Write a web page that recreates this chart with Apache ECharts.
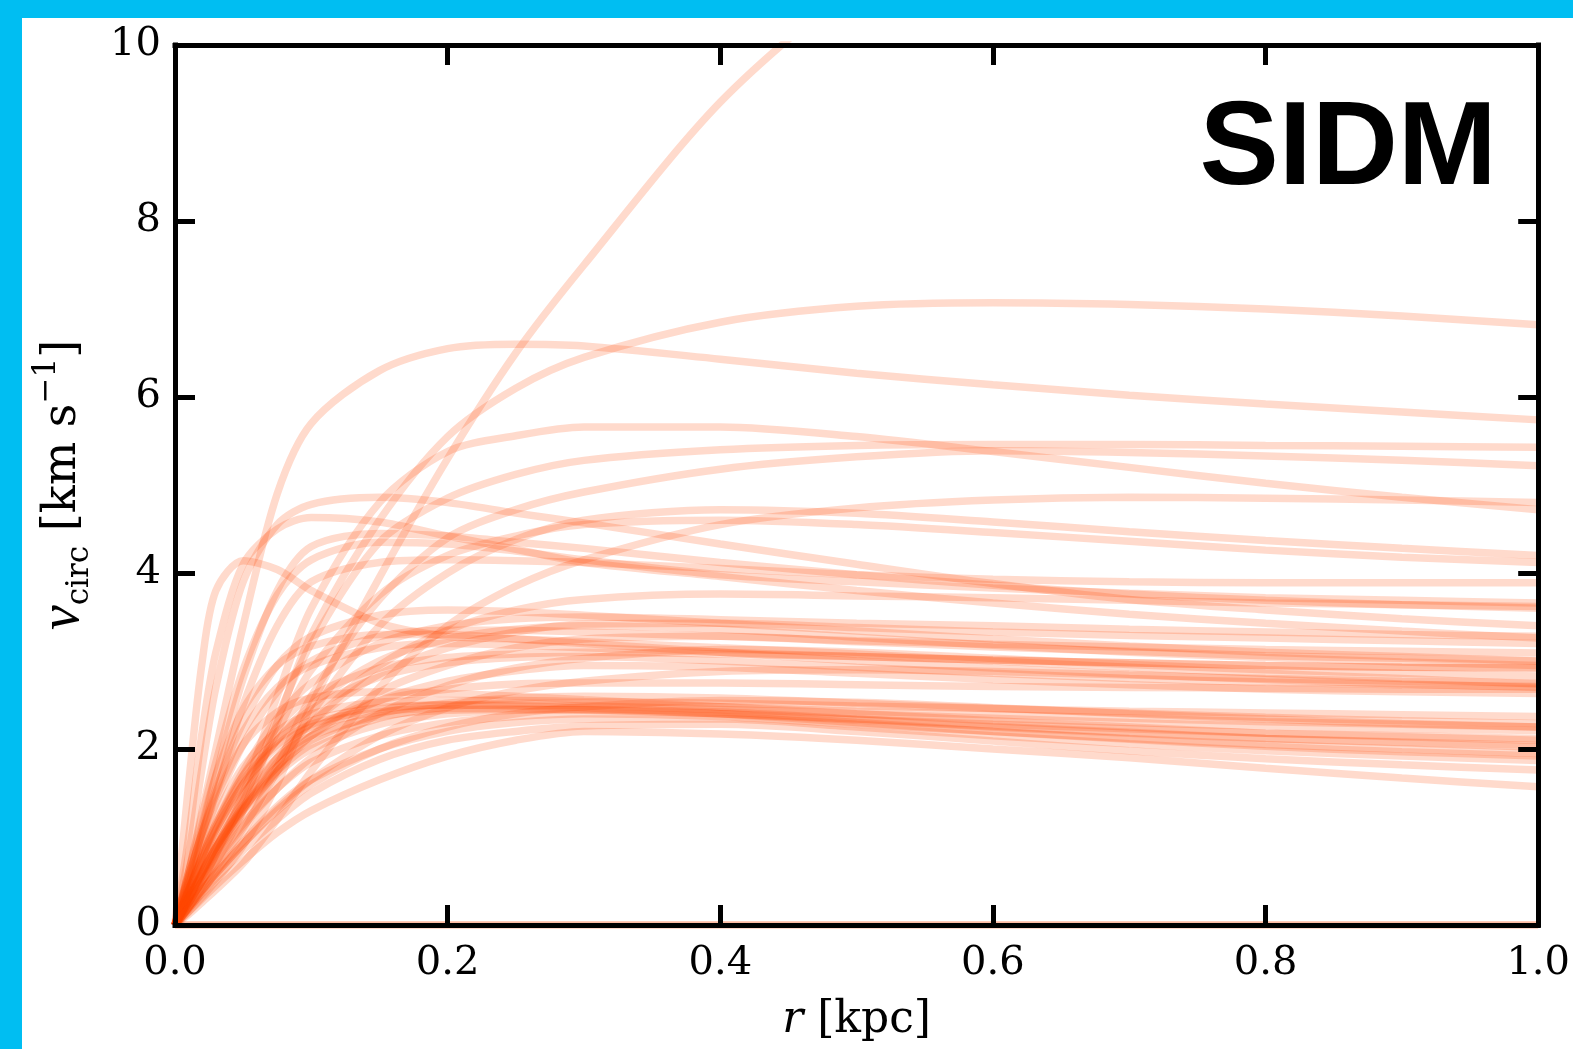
<!DOCTYPE html>
<html><head><meta charset="utf-8">
<script src="https://cdn.jsdelivr.net/npm/echarts@6/dist/echarts.min.js"></script>
<style>html,body{margin:0;padding:0;background:#fff}#c{width:1573px;height:1049px}</style>
</head><body><div id="c"></div><script>
// radius grid [kpc]
const radius = [0, 0.01, 0.02, 0.03, 0.05, 0.075, 0.1, 0.15, 0.2, 0.25, 0.3, 0.4, 0.5, 0.6, 0.7, 0.8, 0.9, 1.0];
const xTicks = [0, 0.2, 0.4, 0.6, 0.8, 1.0];
const yTicks = [0, 2, 4, 6, 8, 10];
// circular velocity curves [km/s]
const haloA = [0, 0.15, 0.32, 0.5, 0.9, 1.6, 2.5, 3.95, 5.3, 6.5, 7.5, 9.35, 10.7, 11.8, 12.8, 13.6, 14.3, 14.9];
const haloB = [0, 0.2, 0.45, 0.7, 1.3, 2.3, 3.3, 4.6, 5.55, 6.1, 6.45, 6.85, 7.03, 7.07, 7.05, 7.0, 6.92, 6.82];
const haloC = [0, 0.6, 1.3, 2.0, 3.4, 4.9, 5.7, 6.3, 6.55, 6.6, 6.58, 6.43, 6.27, 6.14, 6.02, 5.92, 5.83, 5.74];
const haloD = [0, 0.25, 0.5, 0.8, 1.5, 2.6, 3.6, 4.8, 5.38, 5.56, 5.66, 5.66, 5.55, 5.38, 5.2, 5.02, 4.86, 4.72];
const haloE = [0, 0.25, 0.5, 0.8, 1.4, 2.35, 3.2, 4.35, 4.85, 5.12, 5.28, 5.4, 5.45, 5.46, 5.46, 5.45, 5.44, 5.43];
const haloF = [0, 0.18, 0.38, 0.6, 1.05, 1.8, 2.6, 3.7, 4.4, 4.72, 4.92, 5.18, 5.32, 5.39, 5.37, 5.33, 5.28, 5.22];
const haloG = [0, 0.12, 0.26, 0.4, 0.7, 1.2, 1.75, 2.7, 3.4, 3.85, 4.15, 4.55, 4.74, 4.83, 4.86, 4.85, 4.83, 4.80];
const haloH = [0, 0.8, 1.8, 2.7, 3.9, 4.55, 4.78, 4.86, 4.8, 4.68, 4.57, 4.33, 4.1, 3.88, 3.7, 3.58, 3.48, 3.40];
const haloI = [0, 1.0, 2.2, 3.1, 4.1, 4.5, 4.63, 4.58, 4.42, 4.27, 4.12, 3.96, 3.8, 3.66, 3.53, 3.43, 3.34, 3.26];
const haloJ = [0, 1.6, 3.0, 3.8, 4.14, 4.04, 3.8, 3.43, 3.28, 3.25, 3.22, 3.15, 3.08, 3.0, 2.93, 2.86, 2.8, 2.74];
const haloK1 = [0, 0.2, 0.42, 0.65, 1.1, 1.75, 2.4, 3.4, 4.0, 4.38, 4.6, 4.72, 4.68, 4.58, 4.47, 4.37, 4.28, 4.20];
const haloK2 = [0, 0.28, 0.58, 0.88, 1.45, 2.2, 2.9, 3.75, 4.2, 4.42, 4.55, 4.6, 4.55, 4.46, 4.36, 4.26, 4.18, 4.12];
const haloL1 = [0, 0.5, 1.1, 1.7, 2.8, 3.8, 4.3, 4.45, 4.42, 4.35, 4.28, 4.12, 3.98, 3.86, 3.76, 3.69, 3.64, 3.60];
const haloL2 = [0, 0.45, 1.0, 1.5, 2.5, 3.4, 3.9, 4.12, 4.15, 4.14, 4.12, 4.05, 3.98, 3.93, 3.9, 3.89, 3.89, 3.89];
const haloL3 = [0, 0.6, 1.25, 1.85, 2.9, 3.75, 4.15, 4.35, 4.33, 4.25, 4.15, 3.98, 3.9, 3.83, 3.77, 3.72, 3.69, 3.66];
const haloM1 = [0, 0.28, 0.56, 0.83, 1.3, 1.85, 2.3, 2.95, 3.35, 3.58, 3.7, 3.76, 3.74, 3.72, 3.69, 3.66, 3.64, 3.62];
const haloM2 = [0, 0.4, 0.78, 1.15, 1.75, 2.35, 2.75, 3.2, 3.4, 3.48, 3.5, 3.47, 3.43, 3.4, 3.36, 3.33, 3.3, 3.28];
const haloM3 = [0, 0.3, 0.6, 0.88, 1.35, 1.9, 2.3, 2.85, 3.15, 3.33, 3.42, 3.43, 3.38, 3.33, 3.29, 3.26, 3.23, 3.20];
const haloM4 = [0, 0.5, 0.95, 1.38, 2.05, 2.65, 3.0, 3.28, 3.35, 3.35, 3.33, 3.28, 3.23, 3.19, 3.16, 3.13, 3.11, 3.09];
const haloM5 = [0, 0.28, 0.55, 0.8, 1.25, 1.75, 2.15, 2.65, 2.95, 3.15, 3.25, 3.28, 3.22, 3.16, 3.11, 3.06, 3.03, 3.00];
const haloM6 = [0, 0.55, 1.05, 1.5, 2.2, 2.7, 2.95, 3.15, 3.2, 3.18, 3.15, 3.1, 3.05, 3.01, 2.98, 2.95, 2.93, 2.92];
const haloM7 = [0, 0.25, 0.5, 0.72, 1.12, 1.55, 1.9, 2.4, 2.72, 2.92, 3.03, 3.13, 3.1, 3.03, 2.96, 2.9, 2.86, 2.83];
const haloM8 = [0, 0.38, 0.75, 1.08, 1.6, 2.1, 2.45, 2.82, 2.98, 3.04, 3.05, 3.0, 2.93, 2.86, 2.8, 2.76, 2.73, 2.71];
const haloM9 = [0, 0.3, 0.6, 0.88, 1.32, 1.8, 2.15, 2.55, 2.77, 2.89, 2.95, 2.93, 2.86, 2.79, 2.73, 2.68, 2.65, 2.63];
const haloM10 = [0, 0.55, 1.05, 1.55, 2.3, 2.95, 3.28, 3.52, 3.58, 3.56, 3.52, 3.43, 3.34, 3.25, 3.17, 3.1, 3.05, 3.0];
const haloM11 = [0, 0.6, 1.15, 1.7, 2.45, 2.95, 3.17, 3.3, 3.3, 3.25, 3.2, 3.1, 3.0, 2.92, 2.85, 2.79, 2.74, 2.7];
const haloM12 = [0, 0.4, 0.78, 1.12, 1.7, 2.25, 2.6, 2.92, 3.04, 3.08, 3.1, 3.08, 3.05, 3.01, 2.98, 2.95, 2.93, 2.92];
const haloM13 = [0, 0.35, 0.7, 1.02, 1.55, 2.1, 2.5, 3.0, 3.25, 3.36, 3.4, 3.36, 3.27, 3.18, 3.1, 3.04, 2.99, 2.95];
const haloN1 = [0, 0.3, 0.6, 0.88, 1.35, 1.8, 2.1, 2.4, 2.52, 2.58, 2.6, 2.58, 2.52, 2.46, 2.41, 2.36, 2.32, 2.29];
const haloN2 = [0, 0.4, 0.78, 1.12, 1.65, 2.05, 2.28, 2.45, 2.5, 2.5, 2.49, 2.45, 2.4, 2.35, 2.3, 2.26, 2.23, 2.21];
const haloN3 = [0, 0.35, 0.7, 1.0, 1.5, 1.9, 2.15, 2.37, 2.44, 2.45, 2.44, 2.4, 2.34, 2.28, 2.23, 2.18, 2.15, 2.12];
const haloN4 = [0, 0.3, 0.58, 0.85, 1.3, 1.72, 2.0, 2.28, 2.4, 2.44, 2.45, 2.42, 2.34, 2.26, 2.19, 2.12, 2.08, 2.04];
const haloN5 = [0, 0.25, 0.5, 0.74, 1.15, 1.55, 1.85, 2.15, 2.3, 2.37, 2.4, 2.37, 2.28, 2.2, 2.12, 2.05, 2.0, 1.95];
const haloN6 = [0, 0.2, 0.4, 0.6, 0.95, 1.35, 1.65, 2.0, 2.2, 2.3, 2.34, 2.34, 2.25, 2.15, 2.06, 1.98, 1.92, 1.87];
const haloN7 = [0, 0.18, 0.36, 0.53, 0.85, 1.2, 1.5, 1.88, 2.1, 2.2, 2.26, 2.28, 2.2, 2.09, 1.98, 1.89, 1.82, 1.76];
const haloN8 = [0, 0.15, 0.3, 0.45, 0.73, 1.05, 1.3, 1.65, 1.92, 2.1, 2.2, 2.17, 2.1, 2.0, 1.9, 1.78, 1.67, 1.57];
const haloN9 = [0, 0.45, 0.88, 1.25, 1.8, 2.2, 2.4, 2.53, 2.55, 2.55, 2.54, 2.52, 2.49, 2.46, 2.43, 2.41, 2.39, 2.37];
const haloN10 = [0, 0.4, 0.8, 1.15, 1.7, 2.1, 2.32, 2.47, 2.5, 2.49, 2.47, 2.4, 2.3, 2.2, 2.11, 2.03, 1.97, 1.92];
const haloN11 = [0, 0.55, 1.05, 1.45, 2.05, 2.42, 2.58, 2.65, 2.63, 2.6, 2.56, 2.48, 2.4, 2.32, 2.25, 2.18, 2.14, 2.1];
const haloN12 = [0, 0.2, 0.4, 0.58, 0.92, 1.3, 1.6, 2.0, 2.25, 2.4, 2.48, 2.55, 2.53, 2.47, 2.4, 2.34, 2.29, 2.25];
const haloN13 = [0, 0.38, 0.75, 1.08, 1.6, 2.02, 2.25, 2.42, 2.46, 2.46, 2.45, 2.4, 2.33, 2.25, 2.18, 2.12, 2.07, 2.02];
const haloN14 = [0, 0.3, 0.6, 0.88, 1.32, 1.75, 2.05, 2.35, 2.48, 2.52, 2.52, 2.48, 2.43, 2.39, 2.35, 2.31, 2.28, 2.25];
const haloP1 = [0, 0.2, 0.4, 0.58, 0.92, 1.32, 1.65, 2.15, 2.47, 2.66, 2.77, 2.88, 2.9, 2.88, 2.84, 2.8, 2.77, 2.75];
const haloP2 = [0, 0.32, 0.62, 0.9, 1.4, 1.9, 2.22, 2.55, 2.68, 2.74, 2.75, 2.75, 2.73, 2.71, 2.7, 2.69, 2.68, 2.68];
const haloZ1 = [0, 0, 0, 0, 0, 0, 0, 0, 0, 0, 0, 0, 0, 0, 0, 0, 0, 0];
const haloZ2 = [0, 0, 0, 0, 0, 0, 0, 0, 0, 0, 0, 0, 0, 0, 0, 0, 0, 0];

const curves = [haloZ1, haloZ2, haloA, haloB, haloC, haloD, haloE, haloF, haloG, haloH, haloI, haloJ,
  haloK1, haloK2, haloL1, haloL2, haloL3, haloM1, haloM2, haloM3, haloM4, haloM5, haloM6, haloM7,
  haloM8, haloM9, haloM10, haloM11, haloM12, haloM13, haloN1, haloN2, haloN3, haloN4, haloN5, haloN6, haloN7,
  haloN8, haloN9, haloN10, haloN11, haloN12, haloN13, haloN14, haloP1, haloP2];

const chart = echarts.init(document.getElementById('c'), null, {renderer: 'canvas'});
const axisLine = {show: true, onZero: false, lineStyle: {color: '#000', width: 5, cap: 'square'}};
const tick = {show: true, inside: true, length: 20, lineStyle: {color: '#000', width: 5}};
const lbl = {color: '#000', fontFamily: 'DejaVu Serif', fontSize: 40};

const series = curves.map(v => ({
  type: 'line', data: radius.map((r, i) => [r, v[i]]),
  smooth: 0.3, showSymbol: false, symbol: 'none', silent: true,
  clip: true, z: 1,
  lineStyle: {color: 'rgba(255,69,0,0.2)', width: 7.5}
}));

chart.setOption({
  animation: false,
  backgroundColor: '#fff',
  grid: {left: 175, right: 32, top: 45, bottom: 124, containLabel: false},
  xAxis: [{
    type: 'value', min: 0, max: 1, interval: 0.2, position: 'bottom', z: 5,
    axisLine, axisTick: tick, splitLine: {show: false},
    axisLabel: Object.assign({margin: 19, formatter: v => v.toFixed(1), showMaxLabel: true}, lbl),
    name: '{i|r}{n| [kpc]}', nameLocation: 'middle', nameGap: 74,
    nameTextStyle: {rich: {i: {fontFamily: 'DejaVu Serif', fontStyle: 'italic', fontSize: 44, color: '#000'},
                           n: {fontFamily: 'DejaVu Serif', fontSize: 44, color: '#000'}}}
  }, {
    type: 'value', min: 0, max: 1, interval: 0.2, position: 'top', z: 5,
    axisLine, axisTick: tick, axisLabel: {show: false}, splitLine: {show: false}
  }],
  yAxis: [{
    type: 'value', min: 0, max: 10, interval: 2, position: 'left', z: 5,
    axisLine, axisTick: tick, splitLine: {show: false},
    axisLabel: Object.assign({margin: 14}, lbl),
    name: '{v|v}{s|circ}{n| [km s}{p|−1}{n|]}', nameLocation: 'middle', nameGap: 80, nameRotate: 90,
    nameTextStyle: {rich: {
      v: {fontFamily: 'Liberation Serif', fontStyle: 'italic', fontSize: 56, color: '#000', lineHeight: 64, verticalAlign: 'middle'},
      s: {fontFamily: 'DejaVu Serif', fontSize: 31, color: '#000', lineHeight: 32, verticalAlign: 'bottom'},
      n: {fontFamily: 'DejaVu Serif', fontSize: 46, color: '#000', lineHeight: 64, verticalAlign: 'middle'},
      p: {fontFamily: 'DejaVu Serif', fontSize: 31, color: '#000', lineHeight: 32, verticalAlign: 'top'}
    }}
  }, {
    type: 'value', min: 0, max: 10, interval: 2, position: 'right', z: 5,
    axisLine, axisTick: tick, axisLabel: {show: false}, splitLine: {show: false}
  }],
  graphic: [
    {type: 'rect', left: 0, top: 0, shape: {width: 1573, height: 18}, style: {fill: '#00BEF2'}, z: 100},
    {type: 'rect', left: 0, top: 0, shape: {width: 22, height: 1049}, style: {fill: '#00BEF2'}, z: 100},
    {type: 'text', x: 1497, y: 151, z: 100,
     style: {text: 'SIDM', fill: '#000', font: 'bold 119px "Liberation Sans", Arial, sans-serif', textAlign: 'right', textVerticalAlign: 'middle'}}
  ],
  series
});
</script></body></html>
